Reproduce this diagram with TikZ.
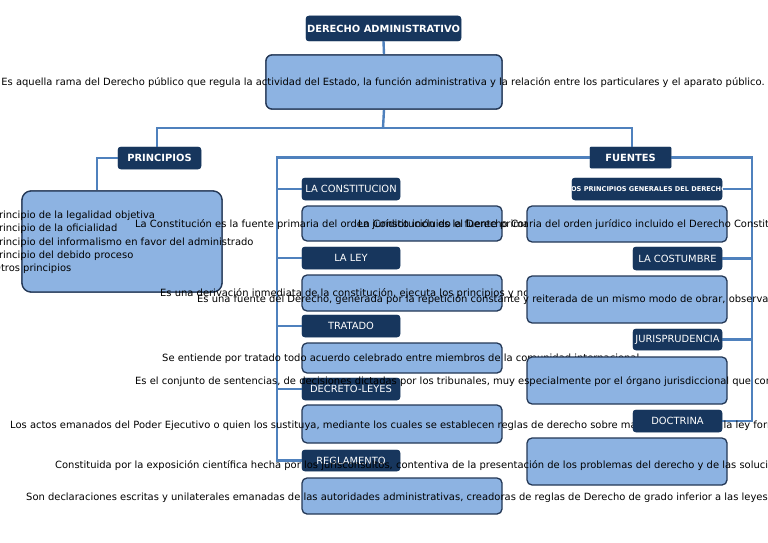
\documentclass[tikz,border=0pt]{standalone}
\usepackage{fontspec}
\setmainfont{DejaVu Sans}
\definecolor{navy}{RGB}{23,54,93}
\definecolor{lightb}{RGB}{141,179,226}
\definecolor{bord}{RGB}{36,56,86}
\definecolor{conn}{RGB}{79,129,189}
\begin{document}
\begin{tikzpicture}[x=1pt,y=-1pt,
  lbl/.style={fill=navy, draw=navy, rounded corners=3pt, text=white, inner sep=0pt,
    font=\fontsize{9.9}{11}\selectfont},
  lblb/.style={lbl, font=\fontsize{9.9}{11}\selectfont\bfseries},
  desc/.style={fill=lightb, draw=bord, line width=1.3pt, rounded corners=5pt, inner sep=0pt},
  txt/.style={inner sep=0pt, text=black, yshift=-1.5pt, font=\fontsize{9.95}{11}\selectfont},
  cn/.style={draw=conn, line width=2.4pt}]
\useasboundingbox (0,0) rectangle (768,543);

% ---------- nodes (shapes only, positions) ----------
\node[lblb, minimum width=155pt, minimum height=25pt] (title) at (383.5,28.5) {DERECHO ADMINISTRATIVO};
\node[desc, minimum width=236pt, minimum height=54pt, rounded corners=6pt] (mbox) at (384,82) {};
\node[lblb, minimum width=83pt, minimum height=22pt] (princ) at (159.5,158) {PRINCIPIOS};
\node[desc, minimum width=200pt, minimum height=101pt, rounded corners=9pt] (pbox) at (122,241.5) {};
\node[lblb, minimum width=81pt, minimum height=21pt, rounded corners=1pt] (fuent) at (630.5,157.5) {FUENTES};

% ---------- connectors ----------
\coordinate (j) at (383,128);
\draw[cn] (title.south) -- (mbox.north);
\draw[cn] (mbox.south) -- (j);
\draw[cn] (j) -| ([xshift=-2.5pt]princ.north);
\draw[cn] (j) -| ([xshift=1.5pt]fuent.north);
\draw[cn] (princ.west) -| ([xshift=-25pt]pbox.north);

% left column labels / boxes
\node[lbl, minimum width=98pt, minimum height=22pt] (lcon) at (351,189) {LA CONSTITUCION};
\node[lbl, minimum width=98pt, minimum height=22pt] (lley) at (351,258) {LA LEY};
\node[lbl, minimum width=98pt, minimum height=22pt] (trat) at (351,326) {TRATADO};
\node[lbl, minimum width=98pt, minimum height=22pt] (decr) at (351,389) {DECRETO-LEYES};
\node[lbl, minimum width=98pt, minimum height=21pt] (regl) at (351,460.5) {REGLAMENTO};

\draw[cn] (fuent.west) -| ([xshift=-25pt]regl.west) -- (regl.west);
\draw[cn] ([xshift=-25pt]lcon.west) -- (lcon.west);
\draw[cn] ([xshift=-25pt]lley.west) -- (lley.west);
\draw[cn] ([xshift=-25pt]trat.west) -- (trat.west);
\draw[cn] ([xshift=-25pt]decr.west) -- (decr.west);

% right column labels
\node[lbl, minimum width=150pt, minimum height=22pt] (pgd) at (647,189) {};
\node[lbl, minimum width=89pt, minimum height=23pt] (cost) at (677.5,258.5) {LA COSTUMBRE};
\node[lbl, minimum width=89pt, minimum height=21pt] (juris) at (677.5,339.5) {JURISPRUDENCIA};
\node[lbl, minimum width=89pt, minimum height=22pt] (doct) at (677.5,421) {DOCTRINA};

\draw[cn] (fuent.east) -| ([xshift=30pt]doct.east) -- (doct.east);
\draw[cn] ([xshift=30pt]pgd.east) -- (pgd.east);
\draw[cn] ([xshift=30pt]cost.east) -- (cost.east);
\draw[cn] ([xshift=30pt]juris.east) -- (juris.east);

% redraw top nodes over connectors
\node[lblb, minimum width=155pt, minimum height=25pt] at (383.5,28.5) {DERECHO ADMINISTRATIVO};
\node[desc, minimum width=236pt, minimum height=54pt, rounded corners=6pt] at (384,82) {};
\node[txt] (tmain) at (383,81) {Es aquella rama del Derecho público que regula la actividad del Estado, la función administrativa y la relación entre los particulares y el aparato público.};
\node[lblb, minimum width=83pt, minimum height=22pt] at (159.5,158) {PRINCIPIOS};
\node[desc, minimum width=200pt, minimum height=101pt, rounded corners=9pt] at (122,241.5) {};
\node[txt, anchor=west, align=left, font=\fontsize{9.95}{13.3}\selectfont] (tprinc) at (-7,241) {Principio de la legalidad objetiva\\Principio de la oficialidad\\Principio del informalismo en favor del administrado\\Principio del debido proceso\\Otros principios};
\node[lblb, minimum width=81pt, minimum height=21pt, rounded corners=1pt] at (630.5,157.5) {FUENTES};

% ---------- left column ----------
\node[lbl, minimum width=98pt, minimum height=22pt] at (351,189) {LA CONSTITUCION};
\node[desc, minimum width=200pt, minimum height=35pt] (dcon) at (402,223.5) {};
\node[txt, anchor=west] (tcon) at (135,223) {La Constitución es la fuente primaria del orden jurídico incluido el Derecho Constitucional y Administrativo.};

\node[lbl, minimum width=98pt, minimum height=22pt] at (351,258) {LA LEY};
\node[desc, minimum width=200pt, minimum height=36pt] (dley) at (402,293) {};
\node[txt, anchor=west] (tley) at (160,292) {Es una derivación inmediata de la constitución, ejecuta los principios y normas contenidas en ella.};

\node[lbl, minimum width=98pt, minimum height=22pt] at (351,326) {TRATADO};
\node[desc, minimum width=200pt, minimum height=30pt] (dtrat) at (402,358) {};
\node[txt, anchor=west] (ttrat) at (162,357) {Se entiende por tratado todo acuerdo celebrado entre miembros de la comunidad internacional.};

\node[lbl, minimum width=98pt, minimum height=22pt] at (351,389) {DECRETO-LEYES};
\node[desc, minimum width=200pt, minimum height=38pt] (ddecr) at (402,424) {};
\node[txt, anchor=west] (tdecr) at (10,424) {Los actos emanados del Poder Ejecutivo o quien los sustituya, mediante los cuales se establecen reglas de derecho sobre materias propias de la ley formal.};

\node[lbl, minimum width=98pt, minimum height=21pt] at (351,460.5) {REGLAMENTO};
\node[desc, minimum width=200pt, minimum height=36pt] (dregl) at (402,496) {};
\node[txt, anchor=west] (tregl) at (26,496) {Son declaraciones escritas y unilaterales emanadas de las autoridades administrativas, creadoras de reglas de Derecho de grado inferior a las leyes.};

% ---------- right column ----------
\node[lbl, minimum width=150pt, minimum height=22pt] at (647,189) {};
\begin{scope}
\clip (572,178) rectangle (722,200);
\node[txt, yshift=1.5pt, text=white, font=\fontsize{6.6}{7}\selectfont\bfseries] (tpgdl) at (647,189) {LOS PRINCIPIOS GENERALES DEL DERECHO};
\end{scope}
\node[desc, minimum width=200pt, minimum height=36pt] (dpgd) at (627,224) {};
\node[txt, anchor=west] (tpgd) at (358,223) {La Constitución es la fuente primaria del orden jurídico incluido el Derecho Constitucional y Administrativo.};

\node[lbl, minimum width=89pt, minimum height=23pt] at (677.5,258.5) {LA COSTUMBRE};
\node[desc, minimum width=200pt, minimum height=47pt] (dcost) at (627,299.5) {};
\node[txt, anchor=west] (tcost) at (197,298) {Es una fuente del Derecho, generada por la repetición constante y reiterada de un mismo modo de obrar, observado por los miembros de una comunidad.};

\node[lbl, minimum width=89pt, minimum height=21pt] at (677.5,339.5) {JURISPRUDENCIA};
\node[desc, minimum width=200pt, minimum height=47pt] (djur) at (627,380.5) {};
\node[txt, anchor=west] (tjur) at (135,380) {Es el conjunto de sentencias, de decisiones dictadas por los tribunales, muy especialmente por el órgano jurisdiccional que conoce en último grado.};

\node[lbl, minimum width=89pt, minimum height=22pt] at (677.5,421) {DOCTRINA};
\node[desc, minimum width=200pt, minimum height=47pt] (ddoc) at (627,461.5) {};
\node[txt, anchor=west] (tdoc) at (55,464) {Constituida por la exposición científica hecha por los jurisconsultos, contentiva de la presentación de los problemas del derecho y de las soluciones que proponen.};
\end{tikzpicture}
\end{document}
